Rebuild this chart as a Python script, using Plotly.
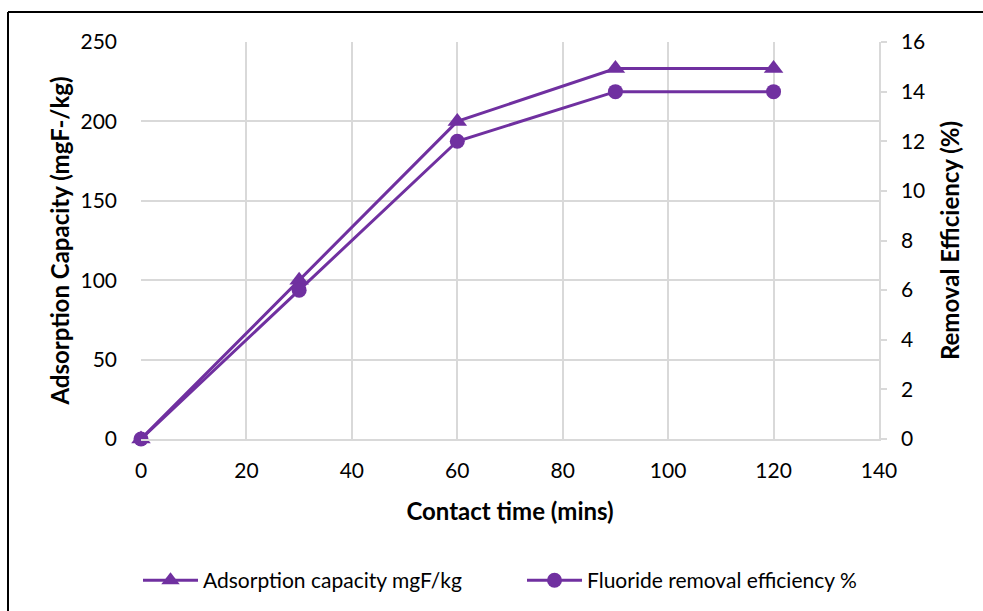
import plotly.graph_objects as go

time_min = [0, 30, 60, 90, 120]
adsorption_capacity = [0, 100, 200, 233.3, 233.3]
removal_efficiency = [0, 6, 12, 14, 14]

purple = "#7030A0"
grid = "#d9d9d9"
font_family = "Lato, Open Sans, sans-serif"

fig = go.Figure()
fig.add_trace(go.Scatter(
    x=time_min, y=adsorption_capacity, name="Adsorption capacity mgF/kg",
    mode="lines+markers", line=dict(color=purple, width=3), cliponaxis=False,
    marker=dict(symbol="triangle-up", size=17, color=purple), yaxis="y",
    legend="legend"))
fig.add_trace(go.Scatter(
    x=time_min, y=removal_efficiency, name="Fluoride removal efficiency %",
    mode="lines+markers", line=dict(color=purple, width=3), cliponaxis=False,
    marker=dict(symbol="circle", size=15, color=purple), yaxis="y2",
    legend="legend2"))

legend_common = dict(orientation="h", xanchor="left", y=-0.305, yanchor="top",
                     font=dict(size=21), itemwidth=55, bgcolor="rgba(0,0,0,0)")

fig.update_layout(
    width=983, height=611,
    margin=dict(l=141, r=104, t=42, b=172, autoexpand=False),
    paper_bgcolor="white", plot_bgcolor="white",
    font=dict(family=font_family, size=21, color="black"),
    showlegend=True,
    legend=dict(x=(138 - 141) / 738, **legend_common),
    legend2=dict(x=(522 - 141) / 738, **legend_common),
    xaxis=dict(range=[0, 140], dtick=20, showgrid=True, gridcolor=grid, gridwidth=1.5,
               zeroline=False, showline=True, linecolor=grid, linewidth=1.5,
               ticks="", ticklabelstandoff=12,
               title=dict(text="<b>Contact time (mins)</b>", font=dict(size=24), standoff=22)),
    yaxis=dict(range=[0, 250], dtick=50, showgrid=True, gridcolor=grid, gridwidth=1.5,
               zeroline=False, showline=False, ticks="", ticklabelstandoff=23,
               title=dict(text="<b>Adsorption Capacity (mgF-/kg)</b>", font=dict(size=24), standoff=4)),
    yaxis2=dict(range=[0, 16], dtick=2, overlaying="y", side="right", showgrid=False,
                zeroline=False, showline=True, linecolor=grid, linewidth=1.5,
                ticks="outside", ticklen=6, tickcolor=grid, tickwidth=1.5,
                ticklabelstandoff=10,
                title=dict(text="<b>Removal Efficiency (%)</b>", font=dict(size=24), standoff=18)),
)

# outer chart border (only top and left edges are inside the reference frame)
x_left = (8 - 141) / 738
y_top = (439 - 12) / 397
fig.add_shape(type="line", xref="paper", yref="paper", x0=x_left, x1=x_left, y0=y_top, y1=-1,
              line=dict(color="black", width=2))
fig.add_shape(type="line", xref="paper", yref="paper", x0=x_left, x1=2, y0=y_top, y1=y_top,
              line=dict(color="black", width=2))

fig.write_html("out.html")
